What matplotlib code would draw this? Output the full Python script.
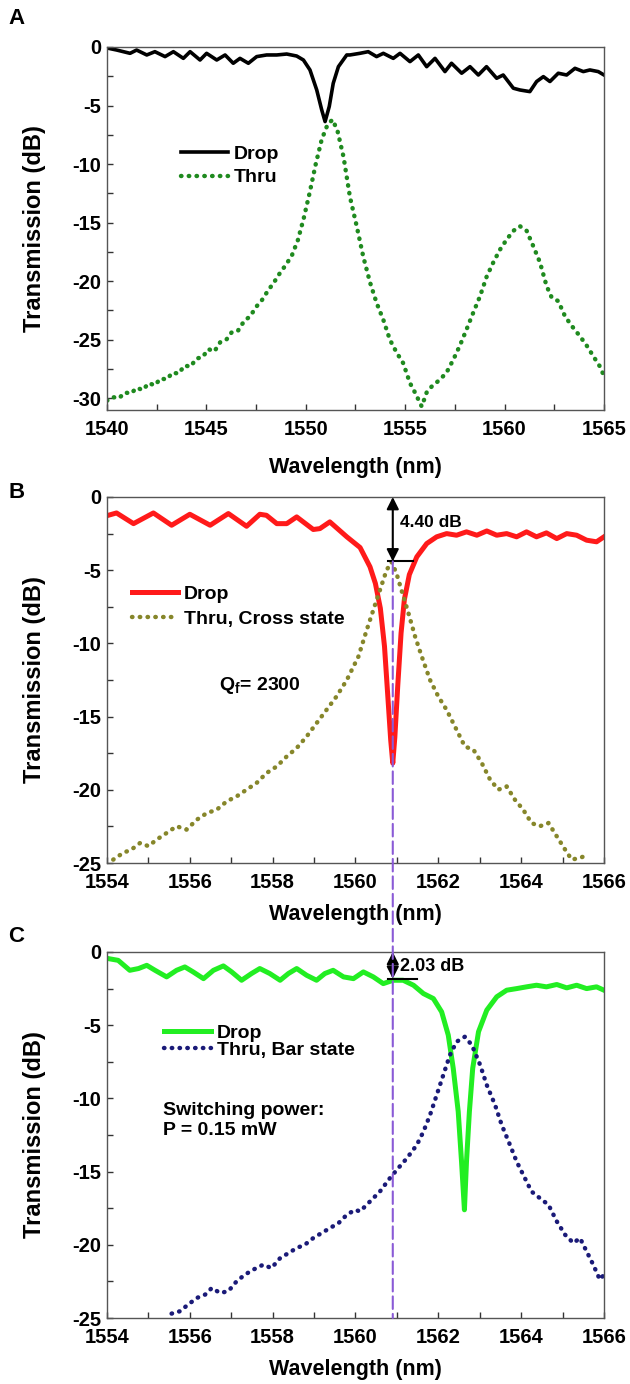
import matplotlib
matplotlib.use('Agg')
import matplotlib.pyplot as plt
from matplotlib.ticker import MultipleLocator
from matplotlib.patches import ConnectionPatch

plt.rcParams['font.family'] = ['Liberation Sans', 'DejaVu Sans']
plt.rcParams['font.weight'] = 'bold'
plt.rcParams['axes.labelweight'] = 'bold'
plt.rcParams['axes.unicode_minus'] = False
plt.rcParams['mathtext.fontset'] = 'custom'
plt.rcParams['mathtext.bf'] = 'Liberation Sans:bold'
plt.rcParams['mathtext.rm'] = 'Liberation Sans:bold'

# ---- panel A ----
a_drop_wl = [1540.07, 1540.49, 1541.16, 1541.49, 1542.0, 1542.41, 1542.92, 1543.34, 1543.84, 1544.18,
             1544.68, 1545.01, 1545.52, 1545.94, 1546.35, 1546.69, 1547.11, 1547.53, 1548.03, 1548.54,
             1549.04, 1549.54, 1549.88, 1550.21, 1550.55, 1550.8, 1550.97, 1551.18, 1551.38, 1551.64,
             1552.06, 1552.22, 1552.72, 1553.14, 1553.56, 1553.90, 1554.40, 1554.74, 1555.24, 1555.66,
             1556.08, 1556.50, 1557.00, 1557.33, 1557.84, 1558.26, 1558.68, 1559.09, 1559.60, 1559.93,
             1560.44, 1560.77, 1561.27, 1561.61, 1561.95, 1562.28, 1562.70, 1563.12, 1563.54, 1563.96,
             1564.29, 1564.71, 1565.0]
a_drop_db = [-0.11, -0.26, -0.54, -0.26, -0.68, -0.40, -0.82, -0.40, -0.97, -0.40,
             -1.11, -0.54, -1.11, -0.68, -1.39, -0.97, -1.39, -0.82, -0.68, -0.68,
             -0.60, -0.77, -1.11, -1.96, -3.67, -5.37, -6.37, -5.08, -3.10, -1.68,
             -0.68, -0.68, -0.54, -0.40, -0.82, -0.54, -0.97, -0.54, -1.25, -0.68,
             -1.68, -0.97, -2.10, -1.39, -2.24, -1.68, -2.39, -1.68, -2.67, -2.39,
             -3.52, -3.67, -3.81, -2.95, -2.53, -2.95, -2.24, -2.39, -1.82, -2.10,
             -1.96, -2.10, -2.39]
a_thru_wl = [1540.0, 1540.3, 1540.6, 1540.9, 1541.2, 1541.5, 1541.8, 1542.1, 1542.4, 1542.7,
             1543.0, 1543.3, 1543.6, 1543.9, 1544.2, 1544.5, 1544.8, 1545.1, 1545.4, 1545.7,
             1546.0, 1546.3, 1546.6, 1546.9, 1547.2, 1547.5, 1547.8, 1548.1, 1548.4, 1548.7,
             1549.0, 1549.3, 1549.6, 1549.9, 1550.2, 1550.5, 1550.8, 1551.1, 1551.35, 1551.6,
             1551.9, 1552.22, 1552.56, 1552.89, 1553.23, 1553.56, 1553.9, 1554.23, 1554.57, 1554.9,
             1555.24, 1555.49, 1555.83, 1556.08, 1556.33, 1556.75, 1557.08, 1557.42, 1557.75, 1558.09,
             1558.42, 1558.76, 1559.10, 1559.43, 1559.77, 1560.10, 1560.44, 1560.77, 1561.11, 1561.44,
             1561.78, 1562.11, 1562.37, 1562.70, 1563.04, 1563.37, 1563.79, 1564.13, 1564.46, 1564.80,
             1565.0]
a_thru_db = [-30.2, -29.9, -30.0, -29.5, -29.6, -29.1, -29.3, -28.7, -28.9, -28.3,
             -28.4, -27.8, -27.9, -27.2, -27.3, -26.6, -26.5, -25.8, -26.0, -25.2,
             -25.0, -24.3, -24.2, -23.4, -23.0, -22.2, -21.6, -20.8, -20.1, -19.3,
             -18.6, -17.8, -16.5, -14.6, -12.4, -10.0, -7.9, -6.6, -6.2, -7.2,
             -9.4, -12.8, -15.3, -17.9, -20.1, -21.85, -23.3, -25.0, -26.1, -27.0,
             -28.7, -29.5, -30.7, -29.5, -29.0, -28.4, -27.8, -26.7, -25.5, -24.1,
             -22.7, -21.3, -19.6, -18.4, -17.3, -16.45, -15.7, -15.3, -15.7, -17.0,
             -18.4, -20.4, -21.4, -21.7, -23.0, -23.8, -24.7, -25.5, -26.4, -27.3,
             -28.1]

# ---- panel B ----
b_drop_wl = [1554.03, 1554.23, 1554.64, 1555.12, 1555.56, 1556.0, 1556.49, 1556.93, 1557.37, 1557.69,
             1557.85, 1558.10, 1558.34, 1558.58, 1558.98, 1559.14, 1559.38, 1559.79, 1560.11, 1560.35,
             1560.48, 1560.60, 1560.70, 1560.78, 1560.85, 1560.90, 1560.95, 1561.02, 1561.10, 1561.18,
             1561.30, 1561.48, 1561.72, 1561.96, 1562.2, 1562.44, 1562.68, 1562.93, 1563.17, 1563.41,
             1563.65, 1563.89, 1564.13, 1564.37, 1564.61, 1564.86, 1565.10, 1565.34, 1565.58, 1565.82,
             1566.0]
b_drop_db = [-1.25, -1.09, -1.82, -1.09, -1.93, -1.18, -1.93, -1.13, -2.0, -1.18,
             -1.25, -1.82, -1.82, -1.36, -2.22, -2.16, -1.70, -2.72, -3.45, -4.77,
             -5.90, -7.60, -10.2, -13.6, -16.6, -18.18, -16.4, -12.9, -9.30, -7.00,
             -5.30, -4.09, -3.18, -2.72, -2.5, -2.61, -2.38, -2.61, -2.32, -2.61,
             -2.5, -2.72, -2.38, -2.72, -2.45, -2.84, -2.5, -2.61, -2.95, -3.06,
             -2.72]
b_thru_wl = [1554.15, 1554.39, 1554.59, 1554.80, 1555.0, 1555.20, 1555.44, 1555.68, 1555.92, 1556.17,
             1556.41, 1556.65, 1556.89, 1557.13, 1557.37, 1557.61, 1557.85, 1558.10, 1558.34, 1558.58,
             1558.82, 1559.06, 1559.30, 1559.54, 1559.79, 1560.07, 1560.27, 1560.43, 1560.59, 1560.75,
             1560.87, 1560.99, 1561.11, 1561.28, 1561.44, 1561.60, 1561.80, 1562.00, 1562.20, 1562.44,
             1562.64, 1562.85, 1563.05, 1563.25, 1563.45, 1563.65, 1563.85, 1564.05, 1564.25, 1564.45,
             1564.66, 1564.86, 1565.06, 1565.22, 1565.42, 1565.62]
b_thru_db = [-24.77, -24.31, -24.08, -23.63, -23.85, -23.40, -22.95, -22.49, -22.72, -22.04,
             -21.59, -21.36, -20.79, -20.45, -19.99, -19.54, -18.86, -18.4, -17.72, -17.15,
             -16.36, -15.45, -14.54, -13.63, -12.5, -10.9, -9.09, -7.72, -6.36, -5.0,
             -4.43, -5.22, -6.36, -7.95, -9.54, -10.9, -12.5, -13.63, -14.54, -15.9,
             -17.04, -17.27, -18.18, -19.31, -19.99, -19.77, -20.68, -21.36, -22.27, -22.49,
             -22.27, -23.18, -24.08, -24.77, -24.65, -24.43]

# ---- panel C ----
c_drop_wl = [1554.03, 1554.27, 1554.55, 1554.76, 1554.96, 1555.16, 1555.44, 1555.68, 1555.88, 1556.08,
             1556.33, 1556.57, 1556.81, 1557.01, 1557.25, 1557.49, 1557.69, 1557.93, 1558.18, 1558.38,
             1558.58, 1558.82, 1559.06, 1559.26, 1559.46, 1559.71, 1559.95, 1560.19, 1560.43, 1560.67,
             1560.91, 1561.15, 1561.40, 1561.64, 1561.88, 1562.08, 1562.24, 1562.36, 1562.48, 1562.56,
             1562.63, 1562.68, 1562.75, 1562.83, 1562.97, 1563.17, 1563.41, 1563.65, 1563.89, 1564.13,
             1564.37, 1564.61, 1564.86, 1565.10, 1565.34, 1565.58, 1565.82, 1566.0]
c_drop_db = [-0.45, -0.57, -1.25, -1.13, -0.91, -1.25, -1.70, -1.25, -1.02, -1.36,
             -1.82, -1.25, -0.95, -1.36, -1.93, -1.47, -1.13, -1.47, -1.93, -1.47,
             -1.13, -1.59, -1.93, -1.47, -1.25, -1.70, -1.82, -1.36, -1.70, -2.16,
             -1.93, -1.93, -2.27, -2.84, -3.18, -4.09, -5.68, -7.95, -10.9, -14.31,
             -17.61, -14.31, -10.9, -7.95, -5.45, -3.97, -3.06, -2.61, -2.5, -2.38,
             -2.27, -2.38, -2.22, -2.45, -2.27, -2.5, -2.38, -2.61]
c_thru_wl = [1555.56, 1555.76, 1555.96, 1556.17, 1556.37, 1556.53, 1556.73, 1556.93, 1557.13, 1557.33,
             1557.53, 1557.77, 1557.97, 1558.18, 1558.38, 1558.58, 1558.78, 1558.98, 1559.18, 1559.38,
             1559.59, 1559.79, 1559.99, 1560.11, 1560.35, 1560.59, 1560.83, 1561.03, 1561.24, 1561.48,
             1561.64, 1561.80, 1561.96, 1562.12, 1562.28, 1562.44, 1562.64, 1562.81, 1563.01, 1563.17,
             1563.37, 1563.53, 1563.73, 1563.89, 1564.05, 1564.25, 1564.45, 1564.66, 1564.86, 1565.06,
             1565.26, 1565.42, 1565.58, 1565.74, 1565.90, 1566.0]
c_thru_db = [-24.7, -24.54, -24.08, -23.63, -23.4, -22.95, -23.29, -23.17, -22.49, -22.04,
             -21.7, -21.36, -21.59, -20.91, -20.57, -20.22, -19.99, -19.54, -19.2, -18.86,
             -18.52, -17.95, -17.61, -17.72, -17.04, -16.36, -15.45, -14.77, -14.09, -13.18,
             -12.27, -11.13, -9.77, -8.4, -7.04, -6.13, -5.79, -6.36, -7.72, -9.09,
             -10.45, -11.81, -13.18, -14.31, -15.22, -16.36, -16.81, -17.27, -18.4, -19.31,
             -19.88, -19.54, -20.45, -21.36, -22.38, -22.04]

resonance_wl = 1560.9
b_gap_db = -4.40
c_gap_db = -2.03

DOT = dict(linestyle=(0, (0.1, 1.65)), lw=3.2, dash_capstyle='round')

fig = plt.figure(figsize=(6.3, 13.84), dpi=100)
W, H = 630.0, 1384.0

def make_axes(top, bottom):
    return fig.add_axes([107 / W, 1 - bottom / H, 497 / W, (bottom - top) / H])

axA = make_axes(47, 410)
axB = make_axes(497, 863)
axC = make_axes(952, 1318)

axA.plot(a_drop_wl, a_drop_db, color='black', lw=2.6, label='Drop')
axA.plot(a_thru_wl, a_thru_db, color='#1f8a1f', label='Thru', **DOT)
axA.set_xlim(1540, 1565)
axA.set_ylim(-31, 0)
axA.xaxis.set_major_locator(MultipleLocator(5))
axA.xaxis.set_minor_locator(MultipleLocator(2.5))

axB.plot(b_drop_wl, b_drop_db, color='#ff1a1a', lw=3.6, label='Drop')
axB.plot(b_thru_wl, b_thru_db, color='#86862a', label='Thru, Cross state', **DOT)

axC.plot(c_drop_wl, c_drop_db, color='#22ee22', lw=3.6, label='Drop')
axC.plot(c_thru_wl, c_thru_db, color='#1a1a78', label='Thru, Bar state', **DOT)

for ax in (axB, axC):
    ax.set_xlim(1554, 1566)
    ax.set_ylim(-25, 0)
    ax.xaxis.set_major_locator(MultipleLocator(2))
    ax.xaxis.set_minor_locator(MultipleLocator(1))

for ax, lpad in ((axA, 13), (axB, 8), (axC, 8)):
    ax.yaxis.set_major_locator(MultipleLocator(5))
    ax.yaxis.set_minor_locator(MultipleLocator(2.5))
    ax.tick_params(which='both', direction='in', length=4, width=1, color='#333333',
                   top=False, right=False, labelsize=14.5)
    ax.tick_params(axis='y', pad=4)
    ax.tick_params(axis='x', pad=7.5)
    for s in ax.spines.values():
        s.set_color('#555555')
        s.set_linewidth(1)
    ax.set_xlabel('Wavelength (nm)', fontsize=15.5, labelpad=lpad)
    ax.set_ylabel('Transmission (dB)', fontsize=17, labelpad=19)

leg_style = dict(loc='upper left', frameon=False, fontsize=14, handlelength=2.4,
                 handletextpad=0.3, borderpad=0)
axA.legend(bbox_to_anchor=(0.13, 0.756), labelspacing=0.3, **leg_style)
axB.legend(bbox_to_anchor=(0.03, 0.785), labelspacing=0.36, **leg_style)
axC.legend(bbox_to_anchor=(0.096, 0.83), labelspacing=0.0, **leg_style)

axB.text(1556.7, -12.85, r'Q$_\mathbf{f}$= 2300', fontsize=14, va='center', ha='left')
axC.text(1555.36, -10.8, 'Switching power:', fontsize=14, va='center', ha='left')
axC.text(1555.36, -12.2, 'P = 0.15 mW', fontsize=14, va='center', ha='left')

# gap arrows
arrow = dict(arrowstyle='<|-|>', color='black', lw=1.5, mutation_scale=18, shrinkA=0, shrinkB=0)
axB.annotate('', xy=(resonance_wl, 0), xytext=(resonance_wl, b_gap_db), arrowprops=arrow)
axB.plot([resonance_wl - 0.12, resonance_wl + 0.5], [b_gap_db, b_gap_db], color='black', lw=1.5)
axB.text(resonance_wl + 0.17, -1.75, '4.40 dB', fontsize=12.5, va='center', ha='left')

axC.annotate('', xy=(resonance_wl, 0), xytext=(resonance_wl, c_gap_db + 0.2), arrowprops=arrow)
axC.plot([resonance_wl - 0.12, resonance_wl + 0.58], [c_gap_db + 0.2, c_gap_db + 0.2], color='black', lw=1.5)
axC.text(resonance_wl + 0.17, -1.0, '2.03 dB', fontsize=13, va='center', ha='left')

con = ConnectionPatch(xyA=(resonance_wl, b_gap_db), coordsA=axB.transData,
                      xyB=(resonance_wl, -25), coordsB=axC.transData,
                      color='#8a5ad6', lw=1.5, linestyle=(0, (6, 2.4)))
fig.add_artist(con)

for lab, y in (('A', 18), ('B', 492), ('C', 937)):
    fig.text(8 / W, 1 - y / H, lab, fontsize=16, va='center', ha='left')

fig.savefig('out.png', dpi=100)
